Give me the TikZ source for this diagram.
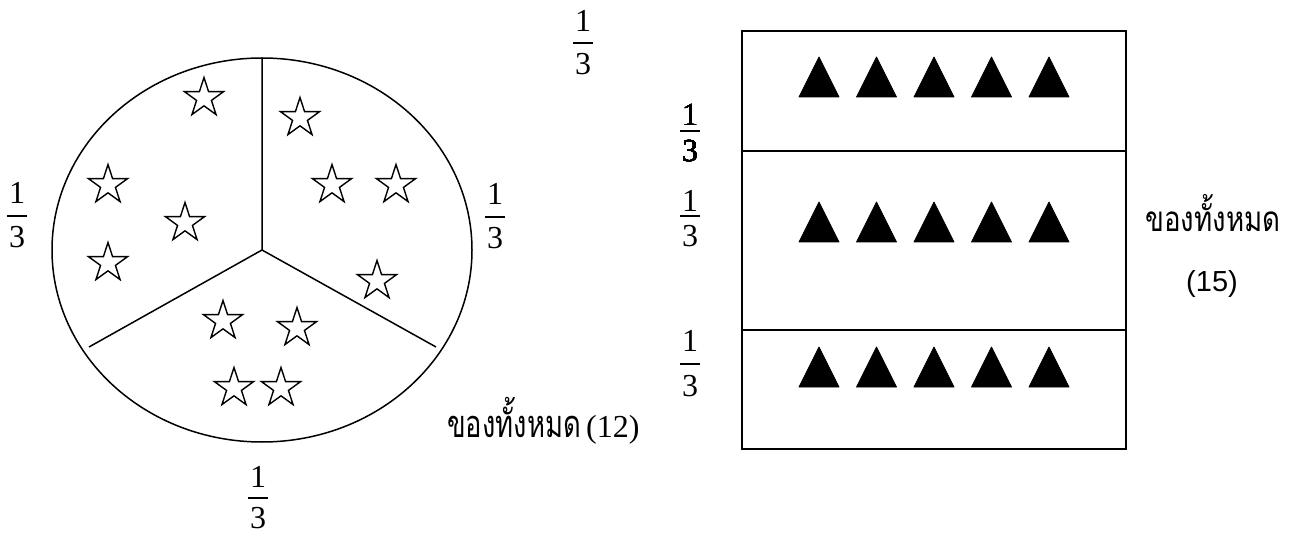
\documentclass[tikz,border=0pt]{standalone}
\usepackage{fontspec}
\setmainfont{Liberation Serif}
\setsansfont{Liberation Sans}
\newfontfamily\thaifont[Script=Thai, FakeStretch=0.72]{Loma}
\newfontfamily\thaifontb[Script=Thai, FakeStretch=0.79]{Loma}
\usetikzlibrary{shapes.geometric}
\newcommand{\fracbox}[2]{\vbox{\offinterlineskip\hbox to 20pt{\hss 1\hss}\kern#1pt\hrule height 1.4pt\kern#2pt\hbox to 20pt{\hss 3\hss}}}
\tikzset{
  fracnode/.style={anchor=north, inner sep=0pt, font=\fontsize{32}{36}\selectfont},
  starnode/.style={star, star points=5, star point ratio=2.618, minimum size=41pt, inner sep=0pt, draw, line width=1.4pt},
  trinode/.style={fill=black, draw=black, line width=0.8pt, line join=round},
  thaitext/.style={inner sep=0pt, font=\thaifont\fontsize{38}{42}\selectfont},
  thaitextb/.style={inner sep=0pt, font=\thaifontb\fontsize{35}{40}\selectfont},
  serifnum/.style={inner sep=0pt, font=\fontsize{32}{36}\selectfont},
  sansnum/.style={inner sep=0pt, font=\sffamily\fontsize{29}{34}\selectfont},
  outline/.style={line width=1.5pt},
  boxline/.style={line width=2pt}
}
\newcommand{\tri}[2]{\fill[trinode] (#1-20,#2+40) -- (#1,#2) -- (#1+20,#2+40) -- cycle;}
\begin{document}
\begin{tikzpicture}[x=1pt,y=-1pt]
\useasboundingbox (0,0) rectangle (1293,537);
% circle
\coordinate (c) at (262,250);
\draw[outline] (c) ellipse [x radius=210, y radius=192];
\coordinate (top) at (262,58);
\coordinate (sl) at (89,347);
\coordinate (sr) at (436,347);
\draw[outline] (top) -- (c) -- (sl);
\draw[outline] (c) -- (sr);
% stars
\foreach \n/\x/\y in {s1/204/98, s2/108/185, s3/185/223, s4/108/263,
                      s5/300/118, s6/332/185, s7/396/185, s8/377/281,
                      s9/223/321, s10/297/328, s11/234/388, s12/281/388}
  \node[starnode] (\n) at (\x,\y) {};
% fractions around circle
\node[fracnode] (ftop) at (583,10) {\fracbox{11}{10}};
\node[fracnode] (fleft) at (17,182) {\fracbox{12}{10}};
\node[fracnode] (fright) at (495,183) {\fracbox{12}{10}};
\node[fracnode] (fbot) at (258,466) {\fracbox{10}{9}};
% label
\node[thaitext, anchor=base west] (t1) at (447,437) {ของทั้งหมด};
\node[serifnum, anchor=base west] (n1) at (586,437) {(12)};
% rectangle
\draw[boxline] (742,31) rectangle (1126,449);
\draw[boxline] (742,151) -- (1126,151);
\draw[boxline] (742,330) -- (1126,330);
\foreach \y in {57,202,347}
  \foreach \x in {819,876.5,934,991.5,1049}
    \tri{\x}{\y}
% fractions by rectangle
\node[fracnode] (fr1) at (690,104) {\fracbox{5}{9}};
\node[fracnode] (fr2) at (690,190) {\fracbox{4}{9}};
\node[fracnode] (fr3) at (690,330) {\fracbox{12}{11}};
% right labels
\node[thaitextb, anchor=base] (t2) at (1213,232) {ของทั้งหมด};
\node[sansnum, anchor=base] (n2) at (1212,292) {(15)};
\end{tikzpicture}
\end{document}
